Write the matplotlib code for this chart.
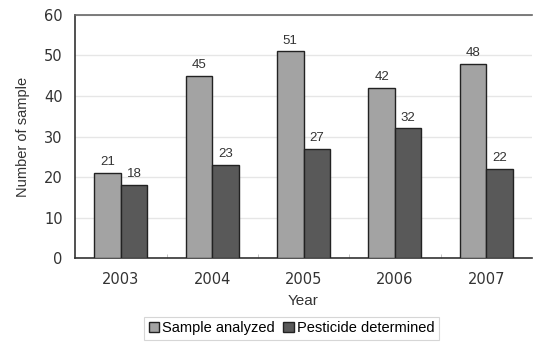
import matplotlib
matplotlib.use("Agg")
import matplotlib.pyplot as plt
import numpy as np

years = ["2003", "2004", "2005", "2006", "2007"]
sample_analyzed = [21, 45, 51, 42, 48]
pesticide_determined = [18, 23, 27, 32, 22]
yticks = [0, 10, 20, 30, 40, 50, 60]

plt.rcParams['font.family'] = ['Liberation Sans', 'DejaVu Sans']

fig = plt.figure(figsize=(5.33, 3.47), dpi=100)
ax = fig.add_axes([0.141, 0.256, 0.857, 0.701])

x = np.arange(len(years))
w = 0.29
b1 = ax.bar(x - w/2, sample_analyzed, w, color='#a3a3a3', edgecolor='#222222', linewidth=1.0,
            label='Sample analyzed', zorder=3)
b2 = ax.bar(x + w/2, pesticide_determined, w, color='#595959', edgecolor='#222222', linewidth=1.0,
            label='Pesticide determined', zorder=3)

for rect, v in zip(b1, sample_analyzed):
    ax.text(rect.get_x() + rect.get_width()/2, v + 1.2, str(v), ha='center', va='bottom',
            fontsize=9.5, color='#333333')
for rect, v in zip(b2, pesticide_determined):
    ax.text(rect.get_x() + rect.get_width()/2, v + 1.2, str(v), ha='center', va='bottom',
            fontsize=9.5, color='#333333')

ax.set_xlim(-0.5, len(years) - 0.5)
ax.set_ylim(0, 60)
ax.set_yticks(yticks)
ax.set_xticks(x)
ax.set_xticklabels(years)
ax.set_xticks(np.arange(0.5, len(years) - 0.5, 1), minor=True)
ax.tick_params(axis='x', which='major', length=0, pad=10, labelsize=10.5, labelcolor='#333333')
ax.tick_params(axis='x', which='minor', length=3, direction='in', color='#bbbbbb')
ax.tick_params(axis='y', length=0, pad=9, labelsize=10.5, labelcolor='#333333')
for lbl in ax.get_xticklabels() + ax.get_yticklabels():
    lbl.set_fontfamily('DejaVu Sans')

ax.yaxis.grid(True, color='#e6e6e6', linewidth=1.0, zorder=0)
ax.set_axisbelow(True)

for s in ['left', 'bottom']:
    ax.spines[s].set_color('#333333')
    ax.spines[s].set_linewidth(1.2)
ax.spines['top'].set_color('#666666')
ax.spines['top'].set_linewidth(1.2)
ax.spines['right'].set_visible(False)

ax.set_xlabel('Year', fontsize=11, color='#333333', labelpad=5)
ax.set_ylabel('Number of sample', fontsize=10.5, color='#333333', labelpad=10)

leg = fig.legend(loc='lower center', bbox_to_anchor=(0.547, 0.0), ncol=2, frameon=True,
                 fontsize=10.5, handlelength=0.7, handleheight=0.7, handletextpad=0.2,
                 columnspacing=0.6, borderpad=0.3, fancybox=False)
leg.get_frame().set_edgecolor('#cccccc')
leg.get_frame().set_linewidth(0.8)

fig.savefig('out.png', dpi=100)
